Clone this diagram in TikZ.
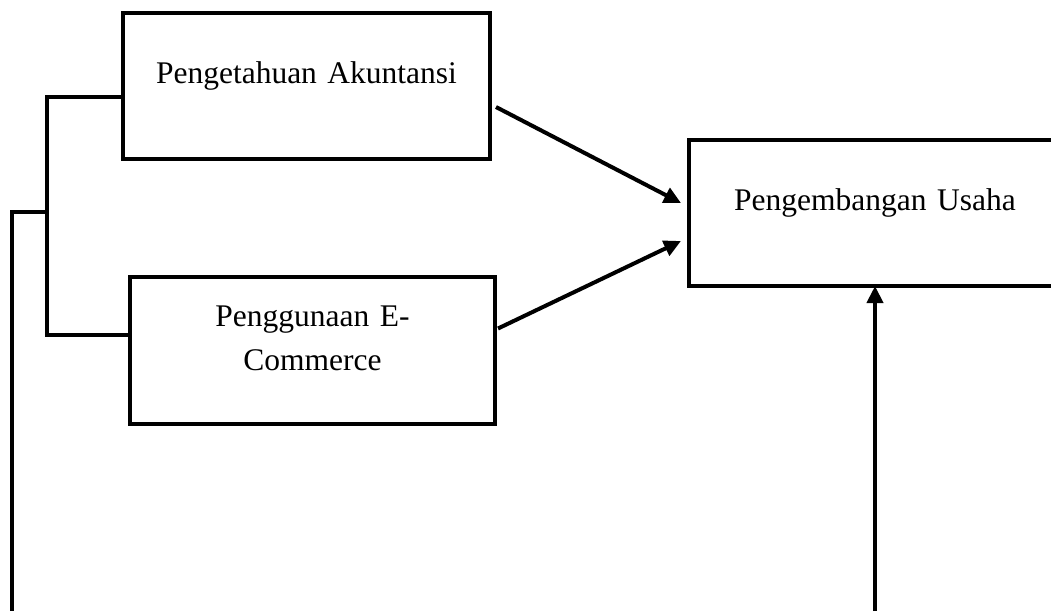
\documentclass[tikz,border=0pt]{standalone}
\usepackage{fontspec}
\setmainfont{Liberation Serif}
\usetikzlibrary{arrows.meta}
\tikzset{
  box/.style={draw, line width=4pt, rectangle, inner sep=0pt, outer sep=0pt,
    anchor=north west, align=center, font=\fontsize{31.5}{44}\selectfont},
  line/.style={line width=4pt},
  arr/.style={line width=4pt, -{Triangle[length=17pt,width=16pt]}}
}
\begin{document}
\begin{tikzpicture}[x=1pt,y=-1pt]
  \useasboundingbox (0,0) rectangle (1051,611);
  \node[box, text width=367pt, text height=70pt, text depth=76pt] (akt) at (123,13)
    {Pengetahuan Akuntansi};
  \node[box, text width=365pt, text height=49pt, text depth=98pt] (ecom) at (130,277)
    {Penggunaan E-\\Commerce};
  \node[box, text width=372pt, text height=70pt, text depth=76pt] (usaha) at (689,140)
    {Pengembangan Usaha};
  \coordinate (brTop) at (47,97);
  \coordinate (brBot) at (47,335);
  \coordinate (brMid) at (47,212);
  \coordinate (leftEnd) at (12,611);
  \coordinate (upStart) at (875,611);
  \begin{scope}[line]
    \draw (akt.west |- brTop) -- (brTop) -- (brBot) -- (ecom.west |- brBot);
    \draw (brMid) -| (leftEnd);
  \end{scope}
  \begin{scope}[arr]
    \draw ([xshift=6pt,yshift=-21pt]akt.east) -- ([xshift=-8pt,yshift=10pt]usaha.west);
    \draw ([xshift=3pt,yshift=22pt]ecom.east) -- ([xshift=-8pt,yshift=-28pt]usaha.west);
    \draw (upStart) -- (upStart |- usaha.south);
  \end{scope}
\end{tikzpicture}
\end{document}
